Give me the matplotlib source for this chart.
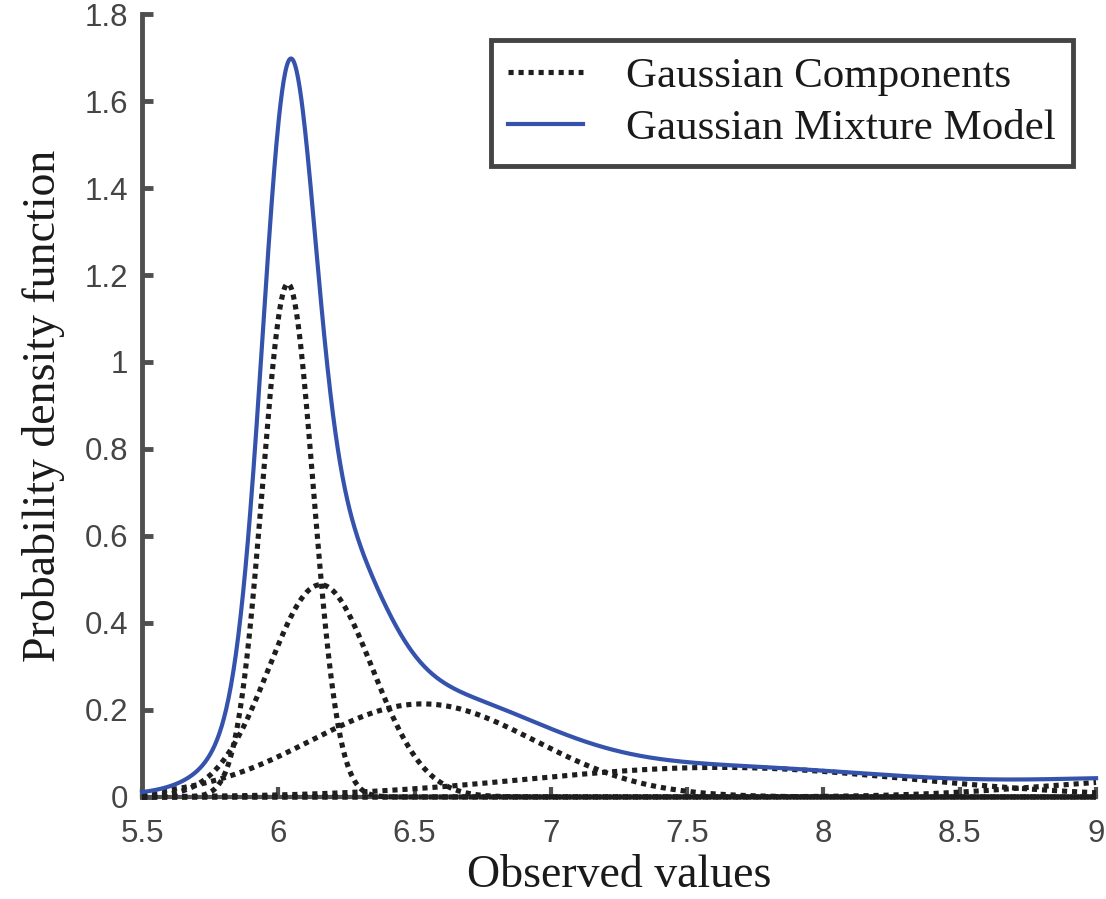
import numpy as np
import matplotlib
matplotlib.use("Agg")
import matplotlib.pyplot as plt
from matplotlib.lines import Line2D

# Gaussian mixture components
comp_means = [6.035, 6.155, 6.53, 7.62, 9.30, 7.25]
comp_sigmas = [0.093, 0.190, 0.410, 0.700, 0.500, 1.00]
comp_peaks = [1.180, 0.488, 0.214, 0.068, 0.040, 0.0]   # peak heights (last = flat zero component)

x_min, x_max = 5.5, 9.0
y_min, y_max = 0.0, 1.8
xticks = [5.5, 6, 6.5, 7, 7.5, 8, 8.5, 9]
xtick_labels = ["5.5", "6", "6.5", "7", "7.5", "8", "8.5", "9"]
yticks = [0, 0.2, 0.4, 0.6, 0.8, 1.0, 1.2, 1.4, 1.6, 1.8]
ytick_labels = ["0", "0.2", "0.4", "0.6", "0.8", "1", "1.2", "1.4", "1.6", "1.8"]

x = np.linspace(x_min, x_max, 1200)
components = [p * np.exp(-0.5 * ((x - m) / s) ** 2)
              for m, s, p in zip(comp_means, comp_sigmas, comp_peaks)]
mixture = np.sum(components, axis=0)

fig = plt.figure(figsize=(11.06, 8.99), dpi=100)
ax = fig.add_axes([0.1284, 0.1135, 0.991 - 0.1284, 0.9844 - 0.1135])

dot_color = "#1e1e1e"
blue = "#3553ad"
dot_style = (0, (1.0, 0.95))
for c in components:
    ax.plot(x, c, color=dot_color, lw=3.7, linestyle=dot_style, clip_on=False, zorder=3)
ax.plot(x, mixture, color=blue, lw=3.0, clip_on=False, zorder=4)

ax.set_xlim(x_min, x_max)
ax.set_ylim(y_min, y_max)

for side in ["top", "right"]:
    ax.spines[side].set_visible(False)
spine_col = "#4f4f4f"
ax.spines["left"].set_color(spine_col)
ax.spines["left"].set_linewidth(3.5)
ax.spines["bottom"].set_color(spine_col)
ax.spines["bottom"].set_linewidth(3.0)

ax.set_xticks(xticks)
ax.set_xticklabels(xtick_labels)
ax.set_yticks(yticks)
ax.set_yticklabels(ytick_labels)
ax.tick_params(axis="both", direction="in", colors=spine_col, labelcolor="#454545",
               labelsize=22.5)
ax.tick_params(axis="y", length=8, width=3.5, pad=10)
ax.tick_params(axis="x", length=7, width=3.0, pad=16)
for lab in ax.get_xticklabels() + ax.get_yticklabels():
    lab.set_family(["Liberation Sans", "DejaVu Sans"])

serif = ["Liberation Serif", "DejaVu Serif"]
ax.set_xlabel("Observed values", fontsize=33, family=serif, color="#1a1a1a", labelpad=4)
ax.set_ylabel("Probability density function", fontsize=33, family=serif, color="#1a1a1a", labelpad=14)

handles = [Line2D([0], [0], color=dot_color, lw=3.7, linestyle=dot_style),
           Line2D([0], [0], color=blue, lw=3.0)]
leg = ax.legend(handles, ["Gaussian Components", "Gaussian Mixture Model"],
                loc="upper right", bbox_to_anchor=(0.976, 0.967),
                prop={"family": serif, "size": 31}, frameon=True, fancybox=False,
                handlelength=1.75, handletextpad=1.0, borderpad=0.4, labelspacing=0.3,
                borderaxespad=0.0)
fr = leg.get_frame()
fr.set_edgecolor("#444444")
fr.set_linewidth(3.5)
fr.set_facecolor("white")
fr.set_alpha(1)
for t in leg.get_texts():
    t.set_color("#1a1a1a")

fig.savefig("out.png", dpi=100, facecolor="white")
